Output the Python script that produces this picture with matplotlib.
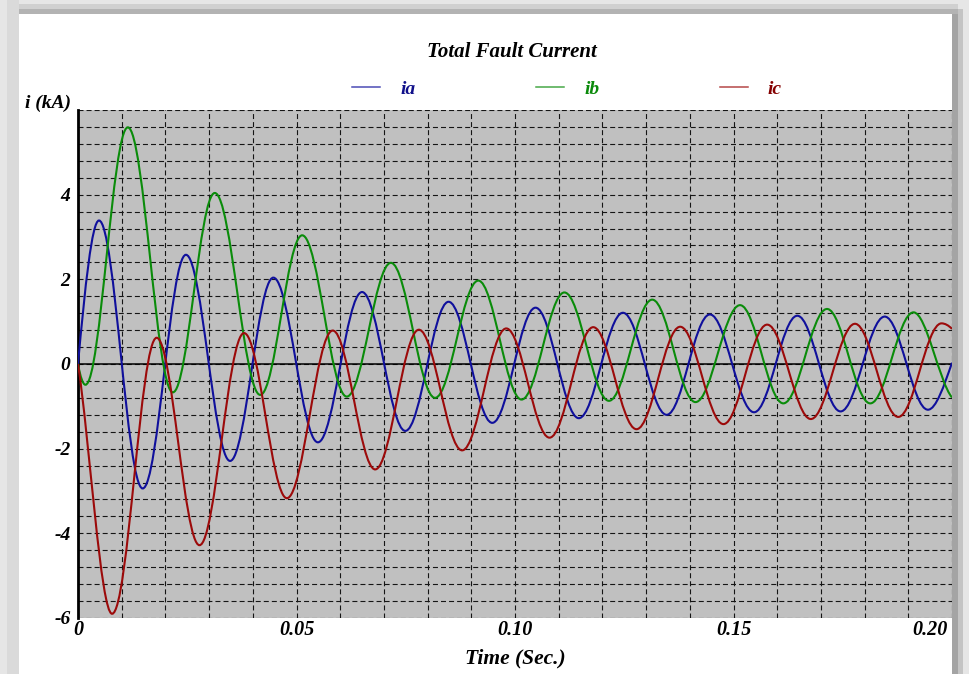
import numpy as np
import matplotlib
matplotlib.use('Agg')
import matplotlib.pyplot as plt
from matplotlib.path import Path
from matplotlib.patches import PathPatch, Rectangle
from matplotlib.lines import Line2D
from matplotlib.transforms import ScaledTranslation

plt.rcParams['lines.scale_dashes'] = False

# ---- data: extrema / end points (time in s, current in kA)
ia_t = [0.0, 0.0048, 0.0148, 0.0247, 0.0348, 0.0447, 0.0549, 0.0650, 0.0749, 0.0848, 0.0948,
        0.1047, 0.1146, 0.1247, 0.1347, 0.1446, 0.1547, 0.1646, 0.1745, 0.1846, 0.1945, 0.2]
ia_v = [0.0, 3.39, -2.94, 2.58, -2.29, 2.04, -1.85, 1.70, -1.58, 1.47, -1.39,
        1.33, -1.28, 1.21, -1.20, 1.17, -1.14, 1.14, -1.12, 1.12, -1.08, 0.03]

ib_t = [0.0, 0.0017, 0.0114, 0.0217, 0.0313, 0.0417, 0.0513, 0.0615, 0.0716, 0.0817, 0.0916,
        0.1015, 0.1113, 0.1215, 0.1314, 0.1413, 0.1515, 0.1614, 0.1714, 0.1813, 0.1912, 0.2]
ib_v = [0.0, -0.49, 5.59, -0.67, 4.04, -0.73, 3.04, -0.77, 2.39, -0.80, 1.97,
        -0.84, 1.69, -0.87, 1.52, -0.90, 1.39, -0.93, 1.30, -0.93, 1.22, -0.79]

ic_t = [0.0, 0.0078, 0.0180, 0.0278, 0.0380, 0.0478, 0.0583, 0.0680, 0.0780, 0.0879, 0.0980,
        0.1079, 0.1179, 0.1278, 0.1378, 0.1477, 0.1577, 0.1677, 0.1778, 0.1877, 0.1976, 0.2]
ic_v = [0.0, -5.90, 0.62, -4.28, 0.73, -3.17, 0.79, -2.49, 0.81, -2.04, 0.84,
        -1.74, 0.87, -1.54, 0.88, -1.42, 0.93, -1.30, 0.95, -1.25, 0.96, 0.83]

series_names = ['ia', 'ib', 'ic']
line_colors = ['#10109c', '#0a8c0a', '#9c0a0a']
text_colors = ['#10108a', '#0a8a0a', '#840000']

x_ticks = [0.0, 0.05, 0.10, 0.15, 0.20]
x_ticklabels = ['0', '0.05', '0.10', '0.15', '0.20']
y_ticks = [-6, -4, -2, 0, 2, 4]
y_ticklabels = ['-6', '-4', '-2', '0', '2', '4']

HALF = 0.01  # half period of 50 Hz, used for curve tangents


def smooth_path(ts, vs):
    """Bezier path through extrema (horizontal tangents), free end points."""
    verts = [(ts[0], vs[0])]
    codes = [Path.MOVETO]
    n = len(ts)
    for i in range(n - 1):
        t0, v0, t1, v1 = ts[i], vs[i], ts[i + 1], vs[i + 1]
        dt = t1 - t0
        if i == 0:
            th = np.pi * dt / HALF
            a = (v1 - v0) / (1 - np.cos(th))
            s0 = a * np.pi / HALF * np.sin(th)
            c1 = (t0 + dt / 3, v0 + s0 * dt / 3)
            c2 = (t1 - dt / 3, v1)
        elif i == n - 2:
            th = np.pi * dt / HALF
            a = (v0 - v1) / (1 - np.cos(th))
            s1 = -a * np.pi / HALF * np.sin(th)
            c1 = (t0 + dt / 3, v0)
            c2 = (t1 - dt / 3, v1 - s1 * dt / 3)
        else:
            k = 0.364
            c1 = (t0 + k * dt, v0)
            c2 = (t1 - k * dt, v1)
        verts += [c1, c2, (t1, v1)]
        codes += [Path.CURVE4] * 3
    return Path(verts, codes)


W, H = 969, 674
fig = plt.figure(figsize=(W / 100, H / 100), dpi=100, facecolor='#e6e6e6')

# screenshot-like frame
def frect(x0, y0, x1, y1, color):
    fig.add_artist(Rectangle((x0 / W, 1 - y1 / H), (x1 - x0) / W, (y1 - y0) / H,
                             transform=fig.transFigure, color=color, lw=0, zorder=-10))

frect(7, 0, 19, H, '#dadada')
frect(19, 4, 958, 9, '#d0d0d0')
frect(19, 9, 958, 14, '#b3b3b3')
frect(952, 14, 958, H, '#a4a4a4')
frect(958, 9, 963, H, '#c4c4c4')
frect(19, 14, 952, H, '#ffffff')

ax = fig.add_axes([78 / W, (H - 618) / H, 874 / W, 508 / H])
ax.set_facecolor('#c0c0c0')
ax.set_xlim(0, 0.2)
ax.set_ylim(-6, 6)

font = dict(family='Liberation Serif', weight='bold', style='italic')

ax.set_xticks(x_ticks)
ax.set_xticklabels(x_ticklabels, fontsize=14.5, **font)
ax.set_xticks(np.round(np.arange(0, 0.2001, 0.01), 3), minor=True)
ax.set_yticks(y_ticks)
ax.set_yticklabels(y_ticklabels, fontsize=14, **font)
ax.set_yticks(np.round(np.arange(-6, 6.001, 0.4), 2), minor=True)
ax.tick_params(which='both', length=0)
ax.tick_params(axis='x', pad=1.5)
ax.tick_params(axis='y', pad=5.5)
lbls = ax.get_xticklabels()
lbls[-1].set_horizontalalignment('right')
lbls[-1].set_transform(lbls[-1].get_transform() + ScaledTranslation(-4 / 100, 0, fig.dpi_scale_trans))

ax.set_axisbelow(True)
ax.grid(which='both', color='#151515', linestyle=(0, (3.6, 2.2)), linewidth=0.8)
for s in ['top', 'right', 'bottom']:
    ax.spines[s].set_visible(False)
ax.spines['left'].set_linewidth(2.0)
ax.spines['left'].set_color('black')

ax.axhline(0, color='black', lw=1.1, zorder=2.5)

for ts, vs, c in zip([ia_t, ib_t, ic_t], [ia_v, ib_v, ic_v], line_colors):
    ax.add_patch(PathPatch(smooth_path(ts, vs), facecolor='none', edgecolor=c,
                           lw=1.5, zorder=3, transform=ax.transData))

fig.text(512 / W, 1 - 52 / H, 'Total Fault Current', ha='center', va='center',
         fontsize=15, **font)
fig.text(71 / W, 1 - 103 / H, 'i (kA)', ha='right', va='center', fontsize=14, **font)
fig.text(515 / W, 1 - 658 / H, 'Time (Sec.)', ha='center', va='center', fontsize=15.5, **font)

handles = [Line2D([], [], color=c, lw=1.1, alpha=0.75) for c in line_colors]
leg = fig.legend(handles, series_names, ncol=3, loc='center',
                 bbox_to_anchor=(567 / W, 1 - 89 / H), frameon=False,
                 handlelength=1.44, handletextpad=1.03, columnspacing=6.2,
                 prop=dict(size=14, **font))
for txt, c in zip(leg.get_texts(), text_colors):
    txt.set_color(c)

fig.savefig('out.png', dpi=100, facecolor=fig.get_facecolor())
